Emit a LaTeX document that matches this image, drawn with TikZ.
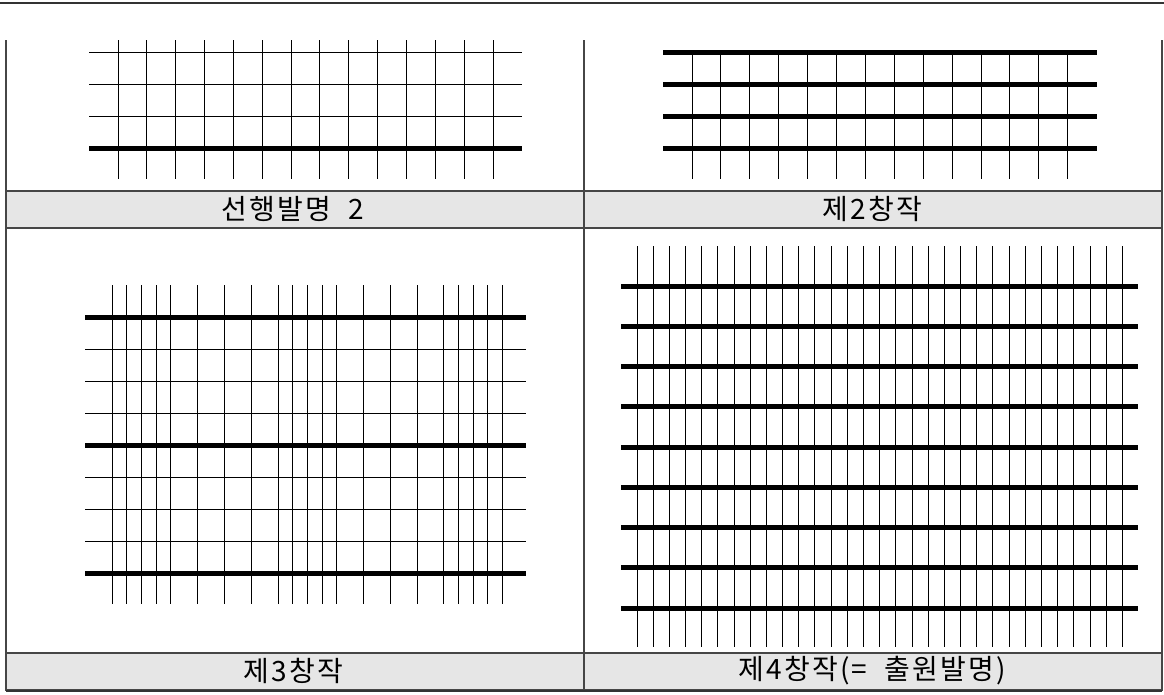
\documentclass[tikz,border=0pt]{standalone}
\usepackage{fontspec}
\usepackage{tikz}
\newfontfamily\krfont[LetterSpace=8]{Noto Sans CJK KR}
\definecolor{bandgray}{RGB}{230,230,230}
\definecolor{framegray}{RGB}{70,70,70}

\begin{document}
\begin{tikzpicture}[
    x=1pt, y=-1pt,
    thinline/.style={line width=1pt, black},
    thickline/.style={line width=5pt, black},
    frame/.style={line width=1.2pt, framegray},
    band/.style={draw=framegray, line width=1.2pt, fill=bandgray},
    caption/.style={font=\krfont\fontsize{28}{30}\selectfont, inner sep=0pt}
]
\useasboundingbox (0,0) rectangle (1164,694);

% Table frame
\draw[line width=2pt, black!80] (0,3) -- (1164,3);
\draw[band] (6,191) rectangle (1162,228);
\draw[band] (6,653) rectangle (1162,690);
\draw[frame] (6,40) -- (6,691);
\draw[frame] (584,40) -- (584,691);
\draw[frame] (1162,40) -- (1162,691);
\draw[line width=2pt, black!80] (6,690.5) -- (1162,690.5);

% Captions
\node[caption] (prior) at (293,209) {선행발명~~2};
\node[caption] (second) at (872,209) {제2창작};
\node[caption] (third) at (293,671) {제3창작};
\node[caption] (fourth) at (872,671) {제4창작(=~~출원발명)};

% Prior art 2
\foreach \y in {52,84,116}
    \draw[thinline] (89,\y) -- (522,\y);
\foreach \i in {0,...,13}
    \draw[thinline] (118+28.85*\i,40) -- (118+28.85*\i,179);
\draw[thickline] (89,148) -- (522,148);

% Second creation
\foreach \i in {0,...,13}
    \draw[thinline] (692+28.9*\i,52) -- (692+28.9*\i,179);
\foreach \y in {52,84,116,148}
    \draw[thickline] (663,\y) -- (1097,\y);

% Third creation
\foreach \y in {349,381,413,477,509,541}
    \draw[thinline] (85,\y) -- (526,\y);
\foreach \x in {112.3,126.95,141.6,156.25,170.9,197.7,224.5,251.3,278.1,292.75,307.4,322.05,336.7,363.5,390.3,417.1,443.9,458.55,473.2,487.85,502.5}
    \draw[thinline] (\x,285) -- (\x,604);
\foreach \y in {317,445,573}
    \draw[thickline] (85,\y) -- (526,\y);

% Fourth creation
\foreach \i in {0,...,30}
    \draw[thinline] (637+16.18*\i,246) -- (637+16.18*\i,647);
\foreach \i in {0,...,8}
    \draw[thickline] (621,286+40.25*\i) -- (1138,286+40.25*\i);

\end{tikzpicture}
\end{document}
